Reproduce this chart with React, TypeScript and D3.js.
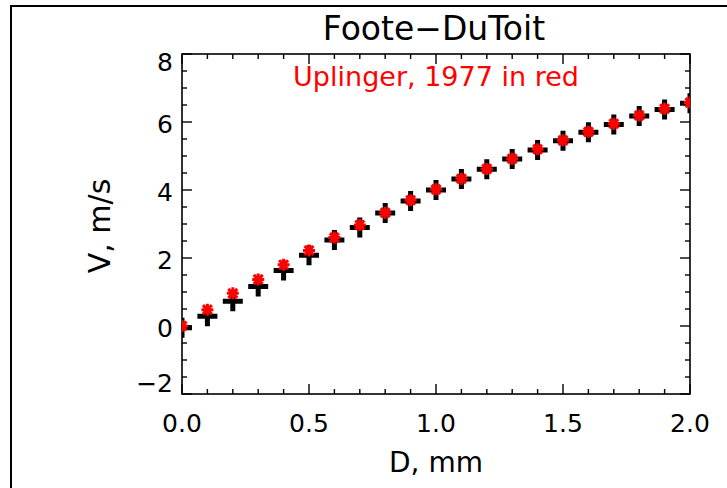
import * as d3 from "d3";
import { useEffect, useRef } from "react";

// D in mm, V in m/s
const diameters = [0.0, 0.1, 0.2, 0.3, 0.4, 0.5, 0.6, 0.7, 0.8, 0.9, 1.0, 1.1, 1.2, 1.3, 1.4, 1.5, 1.6, 1.7, 1.8, 1.9, 2.0];
const footeDuToit = [-0.05, 0.29, 0.73, 1.16, 1.63, 2.08, 2.53, 2.9, 3.32, 3.68, 4.0, 4.32, 4.61, 4.91, 5.18, 5.45, 5.7, 5.93, 6.18, 6.37, 6.55];
const uplinger = [0.0, 0.48, 0.96, 1.37, 1.8, 2.22, 2.6, 2.97, 3.33, 3.7, 4.02, 4.33, 4.62, 4.92, 5.2, 5.46, 5.71, 5.95, 6.19, 6.39, 6.57];
const xTickLabels = ["0.0", "0.5", "1.0", "1.5", "2.0"];
const yTickLabels = ["\u22122", "0", "2", "4", "6", "8"];

const FONT = "DejaVu Sans";

export default function App() {
  const ref = useRef<SVGSVGElement>(null);

  useEffect(() => {
    const width = 727;
    const height = 488;
    const left = 182, right = 690, top = 54, bottom = 394;

    const svg = d3.select(ref.current);
    svg.selectAll("*").remove();
    svg.attr("width", width).attr("height", height);

    const x = d3.scaleLinear().domain([0, 2]).range([left, right]);
    const y = d3.scaleLinear().domain([-2, 8]).range([bottom, top]);

    // outer frame (top + left edge only visible)
    svg.append("path")
      .attr("d", `M11,${height} L11,6 L${width},6`)
      .attr("fill", "none")
      .attr("stroke", "black")
      .attr("stroke-width", 2);

    svg.append("defs").append("clipPath").attr("id", "plotclip")
      .append("rect")
      .attr("x", left).attr("y", top)
      .attr("width", right - left).attr("height", bottom - top);

    // title + note
    svg.append("text")
      .attr("x", 434).attr("y", 40)
      .attr("text-anchor", "middle")
      .attr("font-family", FONT).attr("font-size", 33)
      .text("Foote\u2212DuToit");

    svg.append("text")
      .attr("x", 436).attr("y", 86)
      .attr("text-anchor", "middle")
      .attr("font-family", FONT).attr("font-size", 27)
      .attr("fill", "#ff0000")
      .text("Uplinger, 1977 in red");

    // box
    svg.append("rect")
      .attr("x", left).attr("y", top)
      .attr("width", right - left).attr("height", bottom - top)
      .attr("fill", "none").attr("stroke", "black").attr("stroke-width", 1.6);

    // ticks on all four sides, pointing inward
    const ticks = svg.append("g").attr("stroke", "black").attr("stroke-width", 1.4);
    const xMinor = d3.range(0, 21).map(i => i / 10);
    xMinor.forEach(v => {
      const len = Math.round(v * 10) % 5 === 0 ? 10 : 5;
      ticks.append("line").attr("x1", x(v)).attr("x2", x(v)).attr("y1", bottom).attr("y2", bottom - len);
      ticks.append("line").attr("x1", x(v)).attr("x2", x(v)).attr("y1", top).attr("y2", top + len);
    });
    const yMinor = d3.range(0, 21).map(i => -2 + i / 2);
    yMinor.forEach(v => {
      const len = Math.round(v * 2) % 4 === 0 ? 10 : 5;
      ticks.append("line").attr("y1", y(v)).attr("y2", y(v)).attr("x1", left).attr("x2", left + len);
      ticks.append("line").attr("y1", y(v)).attr("y2", y(v)).attr("x1", right).attr("x2", right - len);
    });

    // tick labels
    svg.append("g").selectAll("text")
      .data(xTickLabels)
      .enter().append("text")
      .attr("x", d => x(+d))
      .attr("y", 432)
      .attr("text-anchor", "middle")
      .attr("font-family", FONT).attr("font-size", 25)
      .text(d => d);

    svg.append("g").selectAll("text")
      .data(yTickLabels)
      .enter().append("text")
      .attr("x", 173)
      .attr("y", d => {
        const c = Math.min(Math.max(y(+d.replace("\u2212", "-")) + 2, top + 8), bottom - 11);
        return c + 9;
      })
      .attr("text-anchor", "end")
      .attr("font-family", FONT).attr("font-size", 25)
      .text(d => d);

    // axis titles
    svg.append("text")
      .attr("x", 436).attr("y", 472)
      .attr("text-anchor", "middle")
      .attr("font-family", FONT).attr("font-size", 28)
      .text("D, mm");

    svg.append("text")
      .attr("transform", "translate(110,226) rotate(-90)")
      .attr("text-anchor", "middle")
      .attr("font-family", FONT).attr("font-size", 30)
      .text("V, m/s");

    const marks = svg.append("g").attr("clip-path", "url(#plotclip)");

    // Foote-DuToit: thick black plus
    const pts = diameters.map((d, i) => ({ d, a: footeDuToit[i], b: uplinger[i] }));
    const s = 10;
    marks.append("g").selectAll("path")
      .data(pts)
      .enter().append("path")
      .attr("d", p => `M${x(p.d) - s},${y(p.a)} h${2 * s} M${x(p.d)},${y(p.a) - s} v${2 * s}`)
      .attr("stroke", "black").attr("stroke-width", 5).attr("fill", "none");

    // Uplinger: red asterisk
    const r = 6, q = 4.5;
    marks.append("g").selectAll("path")
      .data(pts)
      .enter().append("path")
      .attr("d", p => {
        const cx = x(p.d), cy = y(p.b);
        return `M${cx - r},${cy} h${2 * r} M${cx},${cy - r} v${2 * r}` +
          `M${cx - q},${cy - q} L${cx + q},${cy + q} M${cx - q},${cy + q} L${cx + q},${cy - q}`;
      })
      .attr("stroke", "#ff0000").attr("stroke-width", 3).attr("fill", "none");
  }, []);

  return (
    <svg ref={ref} style={{ position: "absolute", left: 0, top: 0, background: "white" }}></svg>
  );
}
